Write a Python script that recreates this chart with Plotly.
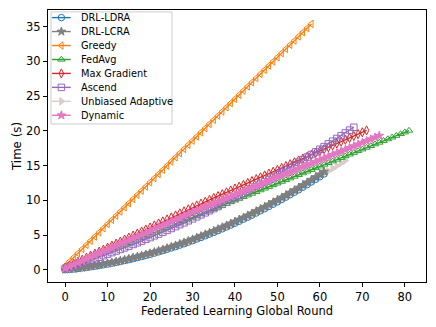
import plotly.graph_objects as go

# Time (s) per global round
drl_ldra = [0.02, 0.06, 0.12, 0.19, 0.27, 0.35, 0.44, 0.53, 0.63, 0.73,
            0.84, 0.96, 1.08, 1.21, 1.34, 1.47, 1.62, 1.77, 1.92, 2.08,
            2.24, 2.41, 2.59, 2.77, 2.96, 3.15, 3.35, 3.56, 3.76, 3.98,
            4.20, 4.43, 4.66, 4.90, 5.14, 5.39, 5.64, 5.90, 6.17, 6.44,
            6.71, 6.99, 7.28, 7.57, 7.87, 8.18, 8.49, 8.80, 9.12, 9.45,
            9.78, 10.12, 10.46, 10.81, 11.16, 11.52, 11.89, 12.26, 12.64, 13.02,
            13.40, 13.80]
drl_lcra = [0.05, 0.10, 0.16, 0.24, 0.32, 0.41, 0.50, 0.60, 0.70, 0.81,
            0.92, 1.05, 1.17, 1.31, 1.44, 1.58, 1.73, 1.89, 2.04, 2.21,
            2.37, 2.55, 2.73, 2.92, 3.11, 3.31, 3.51, 3.73, 3.93, 4.16,
            4.38, 4.62, 4.85, 5.10, 5.34, 5.60, 5.85, 6.12, 6.39, 6.67,
            6.94, 7.23, 7.52, 7.82, 8.12, 8.44, 8.75, 9.07, 9.39, 9.73,
            10.06, 10.41, 10.75, 11.11, 11.46, 11.83, 12.20, 12.58, 12.96, 13.35,
            13.73, 14.14]
greedy = [0.6, 1.2, 1.8, 2.4, 3.0, 3.6, 4.2, 4.8, 5.4, 6.0,
          6.6, 7.2, 7.8, 8.4, 9.0, 9.6, 10.2, 10.8, 11.4, 12.0,
          12.6, 13.2, 13.8, 14.4, 15.0, 15.6, 16.2, 16.8, 17.4, 18.0,
          18.6, 19.2, 19.8, 20.4, 21.0, 21.6, 22.2, 22.8, 23.4, 24.0,
          24.6, 25.2, 25.8, 26.4, 27.0, 27.6, 28.2, 28.8, 29.4, 30.0,
          30.6, 31.2, 31.8, 32.4, 33.0, 33.6, 34.2, 34.8, 35.4]
fedavg = [0.20, 0.45, 0.69, 0.94, 1.18, 1.43, 1.67, 1.92, 2.16, 2.41,
          2.65, 2.90, 3.14, 3.39, 3.63, 3.88, 4.12, 4.37, 4.61, 4.86,
          5.10, 5.35, 5.59, 5.84, 6.08, 6.33, 6.57, 6.82, 7.06, 7.31,
          7.55, 7.80, 8.04, 8.29, 8.53, 8.78, 9.02, 9.27, 9.51, 9.76,
          10.00, 10.25, 10.49, 10.74, 10.98, 11.23, 11.47, 11.72, 11.96, 12.21,
          12.45, 12.70, 12.94, 13.19, 13.43, 13.68, 13.92, 14.17, 14.41, 14.66,
          14.90, 15.15, 15.39, 15.64, 15.88, 16.13, 16.37, 16.62, 16.86, 17.11,
          17.35, 17.60, 17.84, 18.09, 18.33, 18.58, 18.82, 19.07, 19.31, 19.56,
          19.80, 20.05]
max_gradient = [0.30, 0.59, 0.88, 1.17, 1.46, 1.75, 2.04, 2.33, 2.62, 2.91,
                3.20, 3.49, 3.78, 4.07, 4.36, 4.65, 4.94, 5.23, 5.52, 5.81,
                6.10, 6.39, 6.68, 6.97, 7.26, 7.55, 7.84, 8.13, 8.42, 8.71,
                9.00, 9.27, 9.54, 9.81, 10.08, 10.35, 10.62, 10.89, 11.16, 11.43,
                11.70, 11.97, 12.24, 12.51, 12.78, 13.05, 13.32, 13.59, 13.86, 14.13,
                14.40, 14.67, 14.94, 15.21, 15.48, 15.75, 16.02, 16.29, 16.56, 16.83,
                17.10, 17.37, 17.64, 17.91, 18.18, 18.45, 18.72, 18.99, 19.26, 19.53,
                19.80, 20.07]
ascend = [0.20, 0.39, 0.59, 0.78, 0.99, 1.19, 1.40, 1.61, 1.82, 2.04,
          2.26, 2.48, 2.71, 2.94, 3.17, 3.41, 3.65, 3.89, 4.14, 4.39,
          4.64, 4.90, 5.15, 5.42, 5.68, 5.95, 6.22, 6.50, 6.77, 7.06,
          7.34, 7.63, 7.92, 8.21, 8.51, 8.81, 9.11, 9.42, 9.73, 10.04,
          10.36, 10.68, 11.00, 11.33, 11.66, 11.99, 12.33, 12.66, 13.01, 13.35,
          13.70, 14.05, 14.41, 14.76, 15.13, 15.49, 15.86, 16.23, 16.60, 16.98,
          17.36, 17.74, 18.13, 18.52, 18.91, 19.31, 19.71, 20.11, 20.52]
unbiased_adaptive = [0.07, 0.11, 0.17, 0.24, 0.32, 0.40, 0.49, 0.58, 0.68, 0.78,
                     0.89, 1.01, 1.13, 1.26, 1.39, 1.52, 1.67, 1.82, 1.97, 2.13,
                     2.29, 2.46, 2.64, 2.82, 3.01, 3.20, 3.40, 3.61, 3.81, 4.03,
                     4.25, 4.48, 4.71, 4.95, 5.19, 5.44, 5.69, 5.95, 6.22, 6.49,
                     6.76, 7.04, 7.33, 7.62, 7.92, 8.23, 8.54, 8.85, 9.17, 9.50,
                     9.83, 10.17, 10.51, 10.86, 11.21, 11.57, 11.94, 12.31, 12.69, 13.07,
                     13.45, 13.85, 14.22, 14.60, 14.98, 15.36, 15.74]
dynamic = [0.20, 0.47, 0.74, 1.01, 1.28, 1.55, 1.82, 2.09, 2.36, 2.63,
           2.90, 3.17, 3.44, 3.71, 3.98, 4.25, 4.52, 4.79, 5.06, 5.33,
           5.60, 5.87, 6.14, 6.41, 6.68, 6.95, 7.22, 7.49, 7.76, 8.03,
           8.30, 8.55, 8.80, 9.05, 9.30, 9.55, 9.80, 10.05, 10.30, 10.55,
           10.80, 11.05, 11.30, 11.55, 11.80, 12.05, 12.30, 12.55, 12.80, 13.05,
           13.30, 13.55, 13.80, 14.05, 14.30, 14.55, 14.80, 15.05, 15.30, 15.55,
           15.80, 16.05, 16.30, 16.55, 16.80, 17.05, 17.30, 17.55, 17.80, 18.05,
           18.30, 18.55, 18.80, 19.05, 19.30]

x_ticks = [0, 10, 20, 30, 40, 50, 60, 70, 80]
y_ticks = [0, 5, 10, 15, 20, 25, 30, 35]

# name -> (values, color, symbol); dict order = legend order
series = {
    "DRL-LDRA": (drl_ldra, "#1f77b4", "circle-open"),
    "DRL-LCRA": (drl_lcra, "#7f7f7f", "star"),
    "Greedy": (greedy, "#ff7f0e", "triangle-left-open"),
    "FedAvg": (fedavg, "#2ca02c", "triangle-up-open"),
    "Max Gradient": (max_gradient, "#d62728", "diamond-tall-open"),
    "Ascend": (ascend, "#9467bd", "square-open"),
    "Unbiased Adaptive": (unbiased_adaptive, "#dccbc7", "triangle-right"),
    "Dynamic": (dynamic, "#e377c2", "star"),
}
# drawing order: the light Unbiased Adaptive curve sits underneath the DRL ones
draw_order = ["Unbiased Adaptive", "DRL-LDRA", "DRL-LCRA", "Greedy",
              "FedAvg", "Max Gradient", "Ascend", "Dynamic"]

fig = go.Figure()
for name in draw_order:
    vals, color, symbol = series[name]
    fig.add_trace(
        go.Scatter(
            x=list(range(len(vals))),
            y=vals,
            mode="lines+markers",
            name=name,
            showlegend=False,
            line=dict(color=color, width=1.4),
            marker=dict(symbol=symbol, size=6.5, color=color,
                        line=dict(width=1, color=color)),
        )
    )

# matplotlib-style legend box drawn on an overlay axis (0..1 over the plot area)
lg_x0, lg_x1, lg_y0, lg_y1 = 0.008, 0.328, 0.581, 0.993
fig.add_trace(
    go.Scatter(
        x=[lg_x0, lg_x1, lg_x1, lg_x0, lg_x0],
        y=[lg_y0, lg_y0, lg_y1, lg_y1, lg_y0],
        xaxis="x2", yaxis="y2", mode="lines", fill="toself",
        fillcolor="rgba(255,255,255,0.85)", line=dict(color="#cccccc", width=1),
        showlegend=False, hoverinfo="skip",
    )
)
row_top, row_step = 0.972, 0.0513
for i, (name, (vals, color, symbol)) in enumerate(series.items()):
    yy = row_top - i * row_step
    fig.add_trace(
        go.Scatter(
            x=[0.0106, 0.0601], y=[yy, yy], xaxis="x2", yaxis="y2",
            mode="lines", line=dict(color=color, width=1.4),
            showlegend=False, hoverinfo="skip",
        )
    )
    fig.add_trace(
        go.Scatter(
            x=[0.0354], y=[yy], xaxis="x2", yaxis="y2", mode="markers",
            marker=dict(symbol=symbol, size=6.5, color=color,
                        line=dict(width=1, color=color)),
            showlegend=False, hoverinfo="skip",
        )
    )
    fig.add_annotation(
        x=0.082, y=yy, xref="paper", yref="paper", text=name,
        showarrow=False, xanchor="left", yanchor="middle",
        font=dict(size=9.8, color="black"),
    )

axis_common = dict(
    showline=True, mirror=True, linecolor="black", linewidth=1,
    ticks="outside", ticklen=4, tickcolor="black",
    showgrid=False, zeroline=False, automargin=False,
    tickfont=dict(size=11.5, color="black"),
)

# the page body adds an 8px offset, so the figure is 8px smaller on each side
fig.update_layout(
    width=428,
    height=319,
    margin=dict(l=40, r=10, t=2, b=45),
    plot_bgcolor="white",
    paper_bgcolor="white",
    font=dict(family="DejaVu Sans", size=11, color="black"),
    xaxis=dict(range=[-4.05, 85], tickvals=x_ticks,
               title=dict(text="Federated Learning Global Round", standoff=2,
                          font=dict(size=11.5)),
               **axis_common),
    yaxis=dict(range=[-1.75, 37.4], tickvals=y_ticks,
               title=dict(text="Time (s)", standoff=1, font=dict(size=11.8)),
               **axis_common),
    xaxis2=dict(overlaying="x", range=[0, 1], visible=False, fixedrange=True),
    yaxis2=dict(overlaying="y", range=[0, 1], visible=False, fixedrange=True),
    showlegend=False,
)

fig.write_html("out.html")
